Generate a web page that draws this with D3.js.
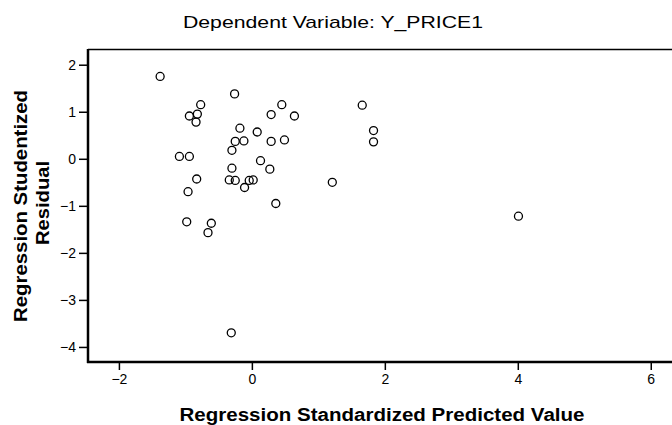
<!DOCTYPE html>
<html>
<head>
<meta charset="utf-8">
<script src="https://cdn.jsdelivr.net/npm/d3@7"></script>
<style>
  html, body { margin: 0; padding: 0; background: #fff; }
  svg { display: block; }
  text { font-family: "Liberation Sans", Arial, sans-serif; fill: #000; }
</style>
</head>
<body>
<script>
// standardized predicted values (x) and studentized residuals (y)
const predicted = [-1.38, -0.26, -0.77, -0.94, -0.82, -0.84, 0.45, 0.29, 0.64, -0.18,
  0.08, -0.25, -0.12, 0.29, 0.49, -0.30, -1.09, -0.94, -0.30, 0.13,
  0.27, -0.83, -0.34, -0.25, -0.11, 0.02, -0.04, -0.96, 0.36, -0.98,
  -0.61, -0.66, -0.31, 1.66, 1.83, 1.83, 1.21, 4.01];
const residuals = [1.75, 1.38, 1.15, 0.91, 0.95, 0.78, 1.15, 0.94, 0.91, 0.65,
  0.57, 0.37, 0.38, 0.37, 0.40, 0.18, 0.05, 0.05, -0.20, -0.04,
  -0.22, -0.43, -0.45, -0.46, -0.61, -0.45, -0.46, -0.70, -0.95, -1.34,
  -1.37, -1.57, -3.70, 1.14, 0.60, 0.36, -0.50, -1.22];
const xTicks = [-2, 0, 2, 4, 6];
const yTicks = [2, 1, 0, -1, -2, -3, -4];

const title = "Dependent Variable: Y_PRICE1";
const xLabel = "Regression Standardized Predicted Value";
const yLabel = ["Regression Studentized", "Residual"];

const width = 672, height = 425;
const plot = { left: 88, top: 49, bottom: 362, right: 684 };

const svg = d3.select("body").append("svg")
  .attr("width", width)
  .attr("height", height);

const x = d3.scaleLinear().domain([-2.465, 6.5]).range([plot.left, plot.right]);
const y = d3.scaleLinear().domain([-4.32, 2.334]).range([plot.bottom, plot.top]);

// title
svg.append("text")
  .attr("x", 333)
  .attr("y", 28)
  .attr("text-anchor", "middle")
  .attr("textLength", 300)
  .attr("lengthAdjust", "spacingAndGlyphs")
  .style("font-size", "17px")
  .text(title);

// top frame line
svg.append("line")
  .attr("x1", plot.left).attr("x2", width)
  .attr("y1", plot.top + 0.5).attr("y2", plot.top + 0.5)
  .attr("stroke", "#000").attr("stroke-width", 1.5);

// axes
const xAxis = d3.axisBottom(x).tickValues(xTicks).tickSize(8).tickPadding(4).tickFormat(d3.format("d"));
const yAxis = d3.axisLeft(y).tickValues(yTicks).tickSize(9).tickPadding(3).tickFormat(d3.format("d"));

const gx = svg.append("g")
  .attr("transform", `translate(0,${plot.bottom})`)
  .call(xAxis);
const gy = svg.append("g")
  .attr("transform", `translate(${plot.left},0)`)
  .call(yAxis);

[gx, gy].forEach(g => {
  g.select(".domain").attr("stroke", "#000").attr("stroke-width", 2.5);
  g.selectAll(".tick line").attr("stroke", "#000").attr("stroke-width", 1.5);
  g.selectAll(".tick text")
    .style("font-family", "'Liberation Sans', Arial, sans-serif")
    .style("font-size", "14px")
    .attr("fill", "#000");
});
// draw y domain across the full plot height
gy.select(".domain").attr("d", `M0,${plot.top}V${plot.bottom + 1}`);
gx.select(".domain").attr("d", `M${plot.left - 1},0H${width}`);

// points
svg.append("g")
  .selectAll("circle")
  .data(predicted.map((v, i) => [v, residuals[i]]))
  .join("circle")
  .attr("cx", d => x(d[0]))
  .attr("cy", d => y(d[1]))
  .attr("r", 4)
  .attr("fill", "none")
  .attr("stroke", "#000")
  .attr("stroke-width", 1.3);

// axis titles
svg.append("text")
  .attr("x", 382)
  .attr("y", 421)
  .attr("text-anchor", "middle")
  .attr("textLength", 405)
  .attr("lengthAdjust", "spacingAndGlyphs")
  .style("font-size", "18px")
  .style("font-weight", "bold")
  .text(xLabel);

svg.append("text")
  .attr("transform", "translate(27,206) rotate(-90)")
  .attr("text-anchor", "middle")
  .attr("textLength", 232)
  .attr("lengthAdjust", "spacingAndGlyphs")
  .style("font-size", "18px")
  .style("font-weight", "bold")
  .text(yLabel[0]);

svg.append("text")
  .attr("transform", "translate(49,203) rotate(-90)")
  .attr("text-anchor", "middle")
  .attr("textLength", 84)
  .attr("lengthAdjust", "spacingAndGlyphs")
  .style("font-size", "18px")
  .style("font-weight", "bold")
  .text(yLabel[1]);
</script>
</body>
</html>
